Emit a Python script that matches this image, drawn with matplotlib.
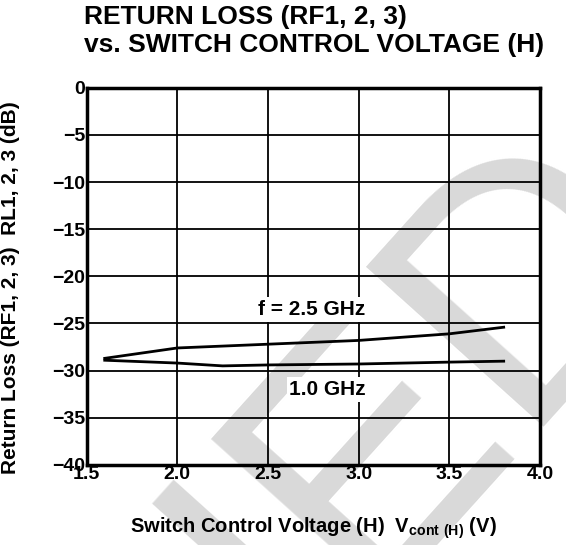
import matplotlib
matplotlib.use('Agg')
import matplotlib.pyplot as plt

plt.rcParams['font.family'] = ['Liberation Sans', 'DejaVu Sans']
plt.rcParams['font.weight'] = 'bold'
plt.rcParams['axes.labelweight'] = 'bold'
plt.rcParams['mathtext.fontset'] = 'custom'
plt.rcParams['mathtext.rm'] = 'Liberation Sans:bold'

# data
volts = [1.6, 2.0, 2.25, 2.5, 3.0, 3.5, 3.8]
rl_25ghz = [-28.7, -27.6, -27.4, -27.2, -26.8, -26.1, -25.4]
rl_10ghz = [-28.9, -29.2, -29.5, -29.4, -29.3, -29.1, -29.0]

xticks = [1.5, 2.0, 2.5, 3.0, 3.5, 4.0]
xticklabels = ['1.5', '2.0', '2.5', '3.0', '3.5', '4.0']
yticks = [0, -5, -10, -15, -20, -25, -30, -35, -40]
yticklabels = ['0', '\u22125', '\u221210', '\u221215', '\u221220',
               '\u221225', '\u221230', '\u221235', '\u221240']

fig = plt.figure(figsize=(5.66, 5.45), dpi=100)

# watermark behind the plot
fig.text(1.09, 0.67, 'DISCONTINUED', rotation=48, fontsize=250,
         fontweight='normal', color='#d9d9d9', ha='right', va='center',
         rotation_mode='anchor', zorder=0)

ax = fig.add_axes([0.153, 0.147, 0.801, 0.692])
ax.set_facecolor('none')
ax.set_zorder(2)

ax.plot(volts, rl_25ghz, color='black', lw=2)
ax.plot(volts, rl_10ghz, color='black', lw=2)

ax.text(2.74, -23.5, 'f = 2.5 GHz', fontsize=15, ha='center', va='center',
        bbox=dict(facecolor='white', edgecolor='none', pad=2))
ax.text(2.83, -32.0, '1.0 GHz', fontsize=15, ha='center', va='center',
        bbox=dict(facecolor='white', edgecolor='none', pad=2))

ax.set_xlim(1.5, 4.0)
ax.set_ylim(-40, 0)
ax.set_xticks(xticks)
ax.set_xticklabels(xticklabels, fontsize=14)
ax.set_yticks(yticks)
ax.set_yticklabels(yticklabels, fontsize=14)
ax.tick_params(length=0, pad=1)
ax.grid(True, color='black', lw=1.3)
ax.set_axisbelow(True)
for s in ax.spines.values():
    s.set_linewidth(2.5)

ax.set_xlabel(r'Switch Control Voltage (H)  V$_{\mathregular{cont\ (H)}}$ (V)',
              fontsize=14.5, va='top')
ax.xaxis.set_label_coords(0.5, -0.135)
ax.set_ylabel('Return Loss (RF1, 2, 3)  RL1, 2, 3 (dB)', fontsize=15)
ax.yaxis.set_label_coords(-0.147, 0.47)

fig.text(0.148, 0.99, 'RETURN LOSS (RF1, 2, 3)', fontsize=19, ha='left', va='top')
fig.text(0.148, 0.939, 'vs. SWITCH CONTROL VOLTAGE (H)', fontsize=19,
         ha='left', va='top')

fig.savefig('out.png', dpi=100)
